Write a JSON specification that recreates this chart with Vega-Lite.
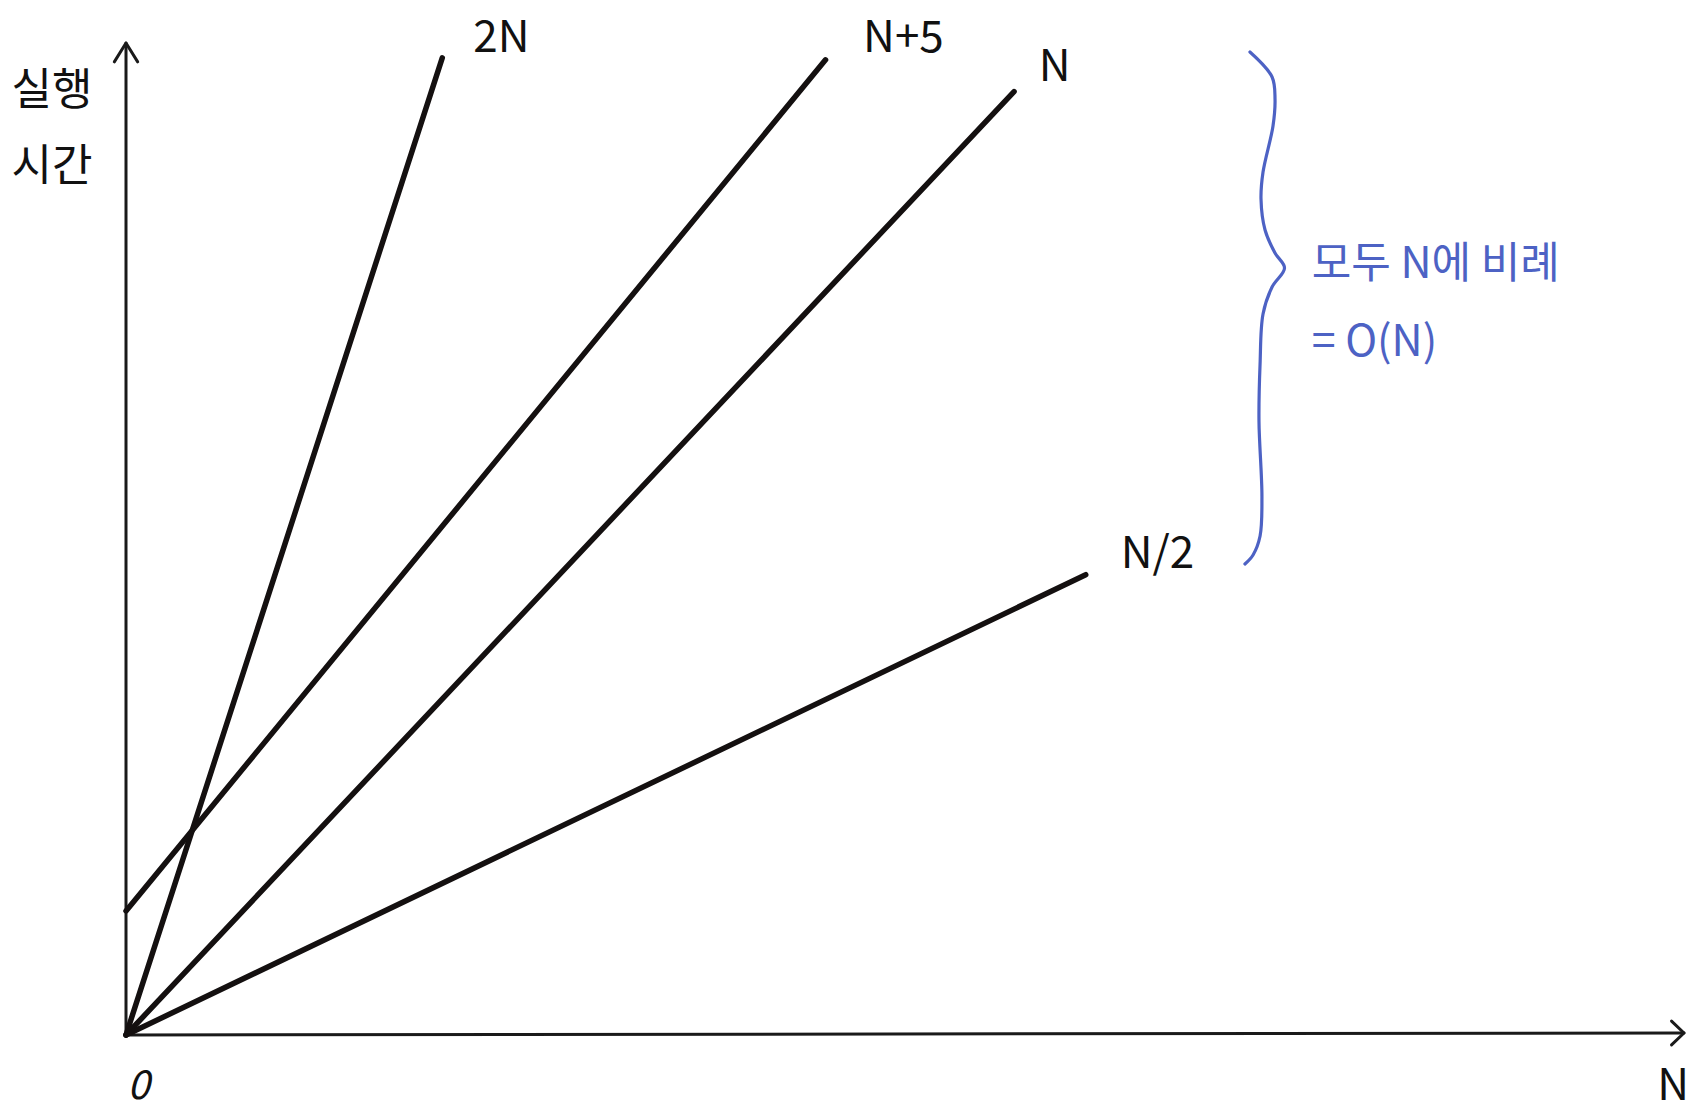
{
  "$schema": "https://vega.github.io/schema/vega-lite/v6.json",
  "autosize": {"type": "none"},
  "padding": {"left": 126, "top": 43, "right": 16, "bottom": 81},
  "width": 1558,
  "height": 992,
  "background": "white",
  "config": {"view": {"stroke": null}},
  "datasets": {
    "lines": [
      {"g": "2N", "i": 0, "x": 0, "y": 0},
      {"g": "2N", "i": 1, "x": 20.3, "y": 98.5},
      {"g": "N+5", "i": 0, "x": 0, "y": 12.5},
      {"g": "N+5", "i": 1, "x": 44.9, "y": 98.3},
      {"g": "N", "i": 0, "x": 0, "y": 0},
      {"g": "N", "i": 1, "x": 57.0, "y": 95.1},
      {"g": "N/2", "i": 0, "x": 0, "y": 0},
      {"g": "N/2", "i": 1, "x": 61.6, "y": 46.4}
    ],
    "axes": [
      {"g": "yaxis", "i": 0, "x": 0, "y": 0},
      {"g": "yaxis", "i": 1, "x": 0, "y": 100},
      {"g": "yarrow", "i": 0, "x": -0.75, "y": 98.1},
      {"g": "yarrow", "i": 1, "x": 0, "y": 100},
      {"g": "yarrow", "i": 2, "x": 0.75, "y": 98.1},
      {"g": "xaxis", "i": 0, "x": 0, "y": 0},
      {"g": "xaxis", "i": 1, "x": 100, "y": 0.2},
      {"g": "xarrow", "i": 0, "x": 99.2, "y": 1.4},
      {"g": "xarrow", "i": 1, "x": 100, "y": 0.2},
      {"g": "xarrow", "i": 2, "x": 99.2, "y": -1.0}
    ],
    "brace": [
      {"i": 0, "x": 72.14, "y": 99.09},
      {"i": 1, "x": 73.56, "y": 96.57},
      {"i": 2, "x": 73.75, "y": 94.35},
      {"i": 3, "x": 73.62, "y": 91.63},
      {"i": 4, "x": 72.98, "y": 86.99},
      {"i": 5, "x": 72.85, "y": 84.27},
      {"i": 6, "x": 73.11, "y": 81.15},
      {"i": 7, "x": 73.75, "y": 78.83},
      {"i": 8, "x": 74.36, "y": 77.32},
      {"i": 9, "x": 73.56, "y": 75.40},
      {"i": 10, "x": 72.98, "y": 72.68},
      {"i": 11, "x": 72.79, "y": 67.64},
      {"i": 12, "x": 72.72, "y": 61.90},
      {"i": 13, "x": 72.91, "y": 54.23},
      {"i": 14, "x": 72.79, "y": 50.30},
      {"i": 15, "x": 72.34, "y": 48.39},
      {"i": 16, "x": 71.82, "y": 47.48}
    ],
    "labels": [
      {"t": "2N", "x": 24.1, "y": 100.4},
      {"t": "N+5", "x": 49.9, "y": 100.4},
      {"t": "N", "x": 59.6, "y": 97.5},
      {"t": "N/2", "x": 66.2, "y": 48.4},
      {"t": "실행", "x": -4.75, "y": 95.1},
      {"t": "시간", "x": -4.75, "y": 87.4},
      {"t": "N", "x": 99.3, "y": -5.2}
    ],
    "zero": [
      {"t": "0", "x": 0.8, "y": -5.2}
    ],
    "notes": [
      {"t": "모두 N에 비례", "x": 76.1, "y": 77.6},
      {"t": "= O(N)", "x": 76.1, "y": 69.8}
    ]
  },
  "layer": [
    {
      "data": {"name": "axes"},
      "mark": {"type": "line", "color": "#1a1a1a", "strokeWidth": 3, "strokeCap": "round", "strokeJoin": "round"},
      "encoding": {
        "x": {"field": "x", "type": "quantitative", "scale": {"domain": [0, 100], "nice": false, "zero": false}, "axis": null},
        "y": {"field": "y", "type": "quantitative", "scale": {"domain": [0, 100], "nice": false, "zero": false}, "axis": null},
        "detail": {"field": "g"},
        "order": {"field": "i", "type": "quantitative"}
      }
    },
    {
      "data": {"name": "lines"},
      "mark": {"type": "line", "color": "#141010", "strokeWidth": 5.5, "strokeCap": "round"},
      "encoding": {
        "x": {"field": "x", "type": "quantitative"},
        "y": {"field": "y", "type": "quantitative"},
        "detail": {"field": "g"},
        "order": {"field": "i", "type": "quantitative"}
      }
    },
    {
      "data": {"name": "brace"},
      "mark": {"type": "line", "color": "#4d62c4", "strokeWidth": 3.2, "strokeCap": "round", "interpolate": "catmull-rom"},
      "encoding": {
        "x": {"field": "x", "type": "quantitative"},
        "y": {"field": "y", "type": "quantitative"},
        "order": {"field": "i", "type": "quantitative"}
      }
    },
    {
      "data": {"name": "labels"},
      "mark": {"type": "text", "color": "#111111", "font": "Noto Sans CJK KR", "fontSize": 44, "align": "center", "baseline": "middle"},
      "encoding": {
        "x": {"field": "x", "type": "quantitative"},
        "y": {"field": "y", "type": "quantitative"},
        "text": {"field": "t"}
      }
    },
    {
      "data": {"name": "zero"},
      "mark": {"type": "text", "color": "#111111", "font": "Noto Sans CJK KR", "fontSize": 40, "fontStyle": "italic", "align": "center", "baseline": "middle"},
      "encoding": {
        "x": {"field": "x", "type": "quantitative"},
        "y": {"field": "y", "type": "quantitative"},
        "text": {"field": "t"}
      }
    },
    {
      "data": {"name": "notes"},
      "mark": {"type": "text", "color": "#4d62c4", "font": "Noto Sans CJK KR", "fontSize": 43, "align": "left", "baseline": "middle"},
      "encoding": {
        "x": {"field": "x", "type": "quantitative"},
        "y": {"field": "y", "type": "quantitative"},
        "text": {"field": "t"}
      }
    }
  ]
}
